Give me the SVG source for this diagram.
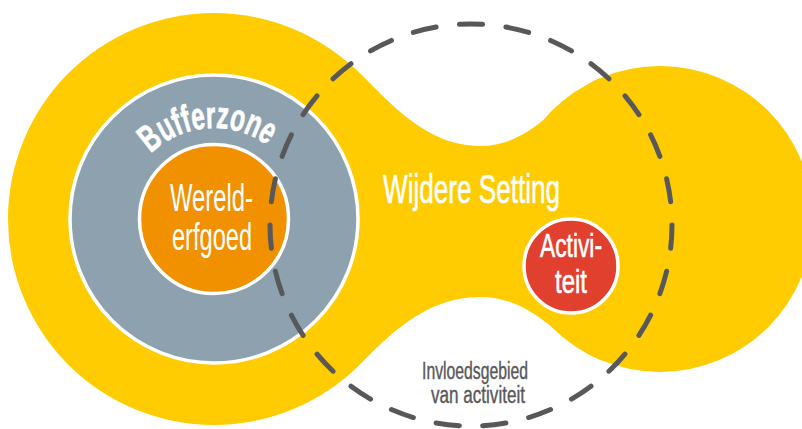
<svg xmlns="http://www.w3.org/2000/svg" width="802" height="429" viewBox="0 0 802 429">
  <style>
    .yellow { fill: #fecc00; }
    .ring { stroke: #ffffff; stroke-width: 3.5; }
    .wt { fill: #ffffff; font-family: "Liberation Sans", Arial, sans-serif; text-anchor: middle; }
    .bold { stroke: #ffffff; stroke-width: 0.6; }
    .buf { fill: #ffffff; stroke: #ffffff; stroke-width: 0.7; font-family: "Liberation Sans", Arial, sans-serif; font-size: 38px; font-weight: bold; text-anchor: middle; }
    .gt { fill: #58585a; stroke: #58585a; stroke-width: 0.4; font-family: "Liberation Sans", Arial, sans-serif; text-anchor: middle; }
  </style>
  <g id="wijdere-setting">
    <circle class="yellow" cx="214" cy="219" r="206"/>
    <circle class="yellow" cx="660" cy="219" r="153"/>
    <path class="yellow" d="M 353,67 C 380,90 420,146 480,146 C 535,146 560,95 600,78 L 600,360 C 560,343 535,297 480,297 C 420,297 382,344 355,369 Z"/>
    <text class="wt bold" x="471.5" y="203" font-size="40" textLength="177" lengthAdjust="spacingAndGlyphs">Wijdere Setting</text>
  </g>
  <g id="bufferzone">
    <circle class="ring" cx="214" cy="219" r="144" fill="#8da1ae"/>
    <text class="buf" transform="rotate(-38.45 214 219) translate(214 128) scale(0.64 1)">B</text>
    <text class="buf" transform="rotate(-28.25 214 219) translate(214 128) scale(0.64 1)">u</text>
    <text class="buf" transform="rotate(-21.02 214 219) translate(214 128) scale(0.64 1)">f</text>
    <text class="buf" transform="rotate(-15.92 214 219) translate(214 128) scale(0.64 1)">f</text>
    <text class="buf" transform="rotate(-9.11 214 219) translate(214 128) scale(0.64 1)">e</text>
    <text class="buf" transform="rotate(-1.88 214 219) translate(214 128) scale(0.64 1)">r</text>
    <text class="buf" transform="rotate(4.93 214 219) translate(214 128) scale(0.64 1)">z</text>
    <text class="buf" transform="rotate(13.43 214 219) translate(214 128) scale(0.64 1)">o</text>
    <text class="buf" transform="rotate(22.79 214 219) translate(214 128) scale(0.64 1)">n</text>
    <text class="buf" transform="rotate(31.72 214 219) translate(214 128) scale(0.64 1)">e</text>
  </g>
  <g id="werelderfgoed">
    <circle class="ring" cx="214" cy="219" r="74.5" fill="#f29100"/>
    <text class="wt" x="211.5" y="211" font-size="38" textLength="83" lengthAdjust="spacingAndGlyphs">Wereld-</text>
    <text class="wt" x="212" y="250" font-size="38" textLength="80" lengthAdjust="spacingAndGlyphs">erfgoed</text>
  </g>
  <g id="activiteit">
    <circle class="ring" cx="571" cy="266" r="47" fill="#e2402f"/>
    <text class="wt bold" x="571" y="257" font-size="34" textLength="62" lengthAdjust="spacingAndGlyphs">Activi-</text>
    <text class="wt bold" x="571" y="293" font-size="34" textLength="32" lengthAdjust="spacingAndGlyphs">teit</text>
  </g>
  <g id="connectors">
    <circle id="invloedsgebied" cx="471" cy="225" r="201" fill="none" stroke="#58585a" stroke-width="5" stroke-linecap="round" pathLength="1242" stroke-dasharray="23 23"/>
  </g>
  <g id="invloedsgebied-label">
    <text class="gt" x="475" y="379" font-size="23" textLength="106" lengthAdjust="spacingAndGlyphs">Invloedsgebied</text>
    <text class="gt" x="478" y="403" font-size="23" textLength="94" lengthAdjust="spacingAndGlyphs">van activiteit</text>
  </g>
</svg>
